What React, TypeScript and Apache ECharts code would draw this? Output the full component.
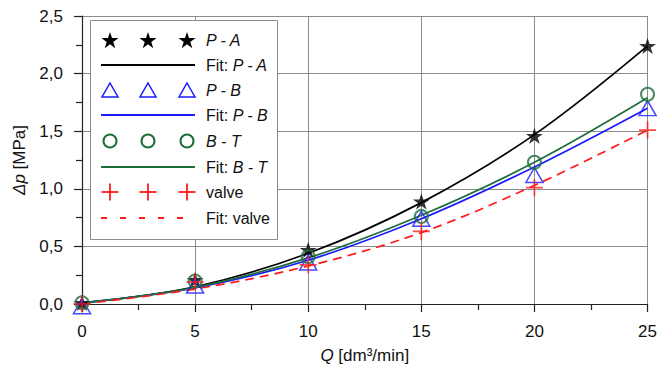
import React, { useEffect, useRef } from "react";
import * as echarts from "echarts";

const xValues = [0, 5, 10, 15, 20, 25];
const measPA = [0.01, 0.21, 0.47, 0.89, 1.46, 2.24];
const measPB = [-0.02, 0.16, 0.36, 0.74, 1.12, 1.7];
const measBT = [0.01, 0.2, 0.41, 0.76, 1.23, 1.82];
const measValve = [0.0, 0.19, 0.34, 0.63, 1.01, 1.51];
const fitPA = [0.01, 0.15, 0.44, 0.88, 1.47, 2.24];
const fitPB = [0.01, 0.14, 0.38, 0.74, 1.19, 1.7];
const fitBT = [0.01, 0.145, 0.4, 0.77, 1.23, 1.79];
const fitValve = [0.0, 0.13, 0.33, 0.62, 1.03, 1.51];
const yTicks = [0, 0.5, 1.0, 1.5, 2.0, 2.5];

const BLACK = "#000000";
const BLUE = "#1a1aff";
const GREEN = "#1d6e3a";
const RED = "#ff1a1a";
const FONT = "'Liberation Sans', Arial, sans-serif";

const STAR_PATH =
  "path://M50,0 L61.2,34.5 L97.6,34.5 L68.2,55.9 L79.4,90.5 L50,69.1 L20.6,90.5 L31.8,55.9 L2.4,34.5 L38.8,34.5 Z";
const PLUS_PATH =
  "path://M45,0 H55 V45 H100 V55 H55 V100 H45 V55 H0 V45 H45 Z";

function pairs(ys: number[]) {
  return xValues.map((x, i) => [x, ys[i]]);
}

function starPts(cx: number, cy: number, r: number) {
  const pts: number[][] = [];
  for (let k = 0; k < 10; k++) {
    const ang = (-90 + k * 36) * (Math.PI / 180);
    const rr = k % 2 === 0 ? r : r * 0.382;
    pts.push([cx + rr * Math.cos(ang), cy + rr * Math.sin(ang) + r * 0.1]);
  }
  return pts;
}

function buildLegend() {
  const rows = [40, 65, 90, 115, 141, 167, 192, 218];
  const mx = [110, 148, 187];
  const textX = 206;
  const els: any[] = [];
  els.push({
    type: "rect",
    shape: { x: 90.5, y: 20.5, width: 187, height: 219 },
    style: { fill: "#ffffff", stroke: "#8c8c8c", lineWidth: 1 },
    z: 100,
  });
  const rich = {
    n: { fontSize: 16, fontFamily: FONT, fill: "#111" },
    i: { fontSize: 16, fontFamily: FONT, fontStyle: "italic", fill: "#111" },
  };
  const labels = [
    "{i|P - A}",
    "{n|Fit: }{i|P - A}",
    "{i|P - B}",
    "{n|Fit: }{i|P - B}",
    "{i|B - T}",
    "{n|Fit: }{i|B - T}",
    "{n|valve}",
    "{n|Fit: valve}",
  ];
  labels.forEach((t, i) => {
    els.push({
      type: "text",
      z: 101,
      style: {
        text: t,
        x: textX,
        y: rows[i],
        verticalAlign: "middle",
        align: "left",
        rich,
        fontSize: 16,
        fontFamily: FONT,
      },
    });
  });
  mx.forEach((x) => {
    els.push({
      type: "polygon",
      z: 101,
      shape: { points: starPts(x, rows[0], 9) },
      style: { fill: BLACK },
    });
  });
  mx.forEach((x) => {
    els.push({
      type: "polygon",
      z: 101,
      shape: {
        points: [
          [x, rows[2] - 7],
          [x + 8, rows[2] + 7],
          [x - 8, rows[2] + 7],
        ],
      },
      style: { fill: "none", stroke: BLUE, lineWidth: 1.5 },
    });
  });
  mx.forEach((x) => {
    els.push({
      type: "circle",
      z: 101,
      shape: { cx: x, cy: rows[4], r: 6.5 },
      style: { fill: "none", stroke: GREEN, lineWidth: 2 },
    });
  });
  mx.forEach((x) => {
    els.push({
      type: "line",
      z: 101,
      shape: { x1: x - 8.5, y1: rows[6], x2: x + 8.5, y2: rows[6] },
      style: { stroke: RED, lineWidth: 1.8 },
    });
    els.push({
      type: "line",
      z: 101,
      shape: { x1: x, y1: rows[6] - 8.5, x2: x, y2: rows[6] + 8.5 },
      style: { stroke: RED, lineWidth: 1.8 },
    });
  });
  const lineRows: [number, string, number[] | null][] = [
    [rows[1], BLACK, null],
    [rows[3], BLUE, null],
    [rows[5], GREEN, null],
    [rows[7], RED, [6, 13]],
  ];
  lineRows.forEach(([y, c, dash]) => {
    els.push({
      type: "line",
      z: 101,
      shape: { x1: 101, y1: y, x2: dash ? 186 : 195, y2: y },
      style: { stroke: c, lineWidth: 1.8, lineDash: dash || undefined },
    });
  });
  return els;
}

export default function App() {
  const ref = useRef<HTMLDivElement>(null);
  useEffect(() => {
    document.body.style.margin = "0";
    if (!ref.current) return;
    const chart = echarts.init(ref.current, null, { renderer: "svg" });
    const fitLine = (name: string, data: number[], color: string, dashed = false) => ({
      name,
      type: "line",
      data: pairs(data),
      smooth: 0.35,
      showSymbol: false,
      symbol: "none",
      clip: false,
      z: 2,
      lineStyle: { color, width: 1.7, type: dashed ? [9, 6] : "solid" },
    });
    const nameStyle = {
      fontSize: 17,
      color: "#111",
      fontFamily: FONT,
      rich: { i: { fontStyle: "italic", fontSize: 17, fontFamily: FONT, color: "#111" } },
    };
    chart.setOption({
      animation: false,
      textStyle: { fontFamily: FONT },
      grid: { left: 82, right: 10, top: 16, bottom: 68, containLabel: false },
      xAxis: {
        type: "value",
        min: 0,
        max: 25,
        interval: 5,
        name: "{i|Q} [dm³/min]",
        nameLocation: "middle",
        nameGap: 43,
        nameTextStyle: nameStyle,
        axisLine: { show: true, onZero: false, lineStyle: { color: "#222", width: 1.2 } },
        axisTick: { show: true, inside: false, length: 8, lineStyle: { color: "#222", width: 1.2 } },
        minorTick: { show: true, splitNumber: 2, length: 6, lineStyle: { color: "#222", width: 1.2 } },
        axisLabel: { fontSize: 17, color: "#111", margin: 19, fontFamily: FONT },
        splitLine: { show: true, lineStyle: { color: "#8c8c8c", width: 1 } },
      },
      yAxis: {
        type: "value",
        min: 0,
        max: 2.5,
        interval: 0.5,
        name: "{i|Δp} [MPa]",
        nameLocation: "middle",
        nameRotate: 90,
        nameGap: 54,
        nameTextStyle: nameStyle,
        axisLine: { show: true, onZero: false, lineStyle: { color: "#222", width: 1.2 } },
        axisTick: { show: true, inside: false, length: 8, lineStyle: { color: "#222", width: 1.2 } },
        minorTick: { show: true, splitNumber: 2, length: 6, lineStyle: { color: "#222", width: 1.2 } },
        axisLabel: {
          fontSize: 17,
          color: "#111",
          margin: 19,
          fontFamily: FONT,
          formatter: (v: number) => (yTicks.indexOf(v) >= 0 ? v.toFixed(1).replace(".", ",") : ""),
        },
        splitLine: { show: true, lineStyle: { color: "#8c8c8c", width: 1 } },
      },
      series: [
        fitLine("Fit: P - A", fitPA, BLACK),
        fitLine("Fit: P - B", fitPB, BLUE),
        fitLine("Fit: B - T", fitBT, GREEN),
        fitLine("Fit: valve", fitValve, RED, true),
        {
          name: "P - A",
          type: "scatter",
          data: pairs(measPA),
          symbol: STAR_PATH,
          symbolKeepAspect: true,
          symbolSize: 17,
          clip: false,
          z: 3,
          itemStyle: { color: BLACK },
        },
        {
          name: "P - B",
          type: "scatter",
          data: pairs(measPB),
          symbol: "triangle",
          symbolSize: [17, 15],
          clip: false,
          z: 3,
          itemStyle: { color: "rgba(0,0,0,0)", borderColor: BLUE, borderWidth: 1.5 },
        },
        {
          name: "B - T",
          type: "scatter",
          data: pairs(measBT),
          symbol: "circle",
          symbolSize: 13,
          clip: false,
          z: 4,
          itemStyle: { color: "rgba(0,0,0,0)", borderColor: GREEN, borderWidth: 2 },
        },
        {
          name: "valve",
          type: "scatter",
          data: pairs(measValve),
          symbol: PLUS_PATH,
          symbolSize: 17,
          clip: false,
          z: 4,
          itemStyle: { color: RED },
        },
      ],
      graphic: buildLegend(),
    });
    return () => chart.dispose();
  }, []);
  return (
    <div
      ref={ref}
      style={{ width: 660, height: 372, position: "absolute", left: 0, top: 0, background: "#fff" }}
    />
  );
}
